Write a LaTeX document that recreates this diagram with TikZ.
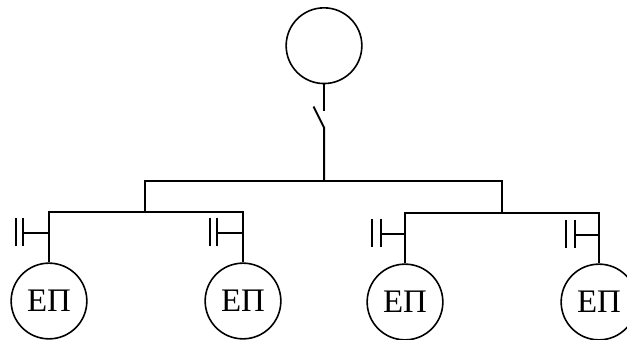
\documentclass[tikz,border=0pt]{standalone}
\usepackage{fontspec}
\setmainfont{Liberation Serif}
\tikzset{
  load/.style={circle,draw,line width=1.6pt,minimum size=76pt,inner sep=0pt,font=\fontsize{33}{33}\selectfont},
  wire/.style={line width=2pt,line cap=butt},
  thinwire/.style={line width=2pt},
  plate/.style={line width=2pt}
}
\begin{document}
\begin{tikzpicture}[x=1.00375pt,y=-1.00375pt]
\useasboundingbox (0,0) rectangle (627,340);
\node[load] (src) at (324,45.7) {};
\node[load] (l1) at (49,301) {ЕП};
\node[load] (l2) at (243,301) {ЕП};
\node[load] (l3) at (405,302) {ЕП};
\node[load] (l4) at (599,302) {ЕП};
% switch
\coordinate (swa) at (324,110.5);
\coordinate (swt) at (313.5,106.5);
\coordinate (swb) at (324,127.5);
\coordinate (m) at (324,181);
\draw[wire] (src.south) -- (swa);
\draw[wire,line join=round] (swt) -- (swb) -- (m);
% buses
\coordinate (bl) at (145,181);
\coordinate (br) at (502,181);
\draw[wire,line join=miter] (145,212) coordinate (jl) -- (bl) -- (br) -- (502,213) coordinate (jr);
\coordinate (a1) at (49,212);
\coordinate (a2) at (243,212);
\coordinate (a3) at (405,213);
\coordinate (a4) at (599,213);
\draw[wire] (l1.north) -- (a1) -- (a2) -- (l2.north);
\draw[wire] (l3.north) -- (a3) -- (a4) -- (l4.north);
% capacitors
\coordinate (c1) at (49,233);
\coordinate (c2) at (243,233);
\coordinate (c3) at (405,234);
\coordinate (c4) at (599,235);
\draw[thinwire] (c1) -- (23,233);
\draw[plate] (23,218) -- (23,246) (16,218) -- (16,246);
\draw[thinwire] (c2) -- (217,233);
\draw[plate] (217,218) -- (217,246) (210,218) -- (210,246);
\draw[thinwire] (c3) -- (381,234);
\draw[plate] (381,218.5) -- (381,246.5) (372,218.5) -- (372,246.5);
\draw[thinwire] (c4) -- (575,235);
\draw[plate] (575,219.5) -- (575,247.5) (566,219.5) -- (566,247.5);
\end{tikzpicture}
\end{document}
